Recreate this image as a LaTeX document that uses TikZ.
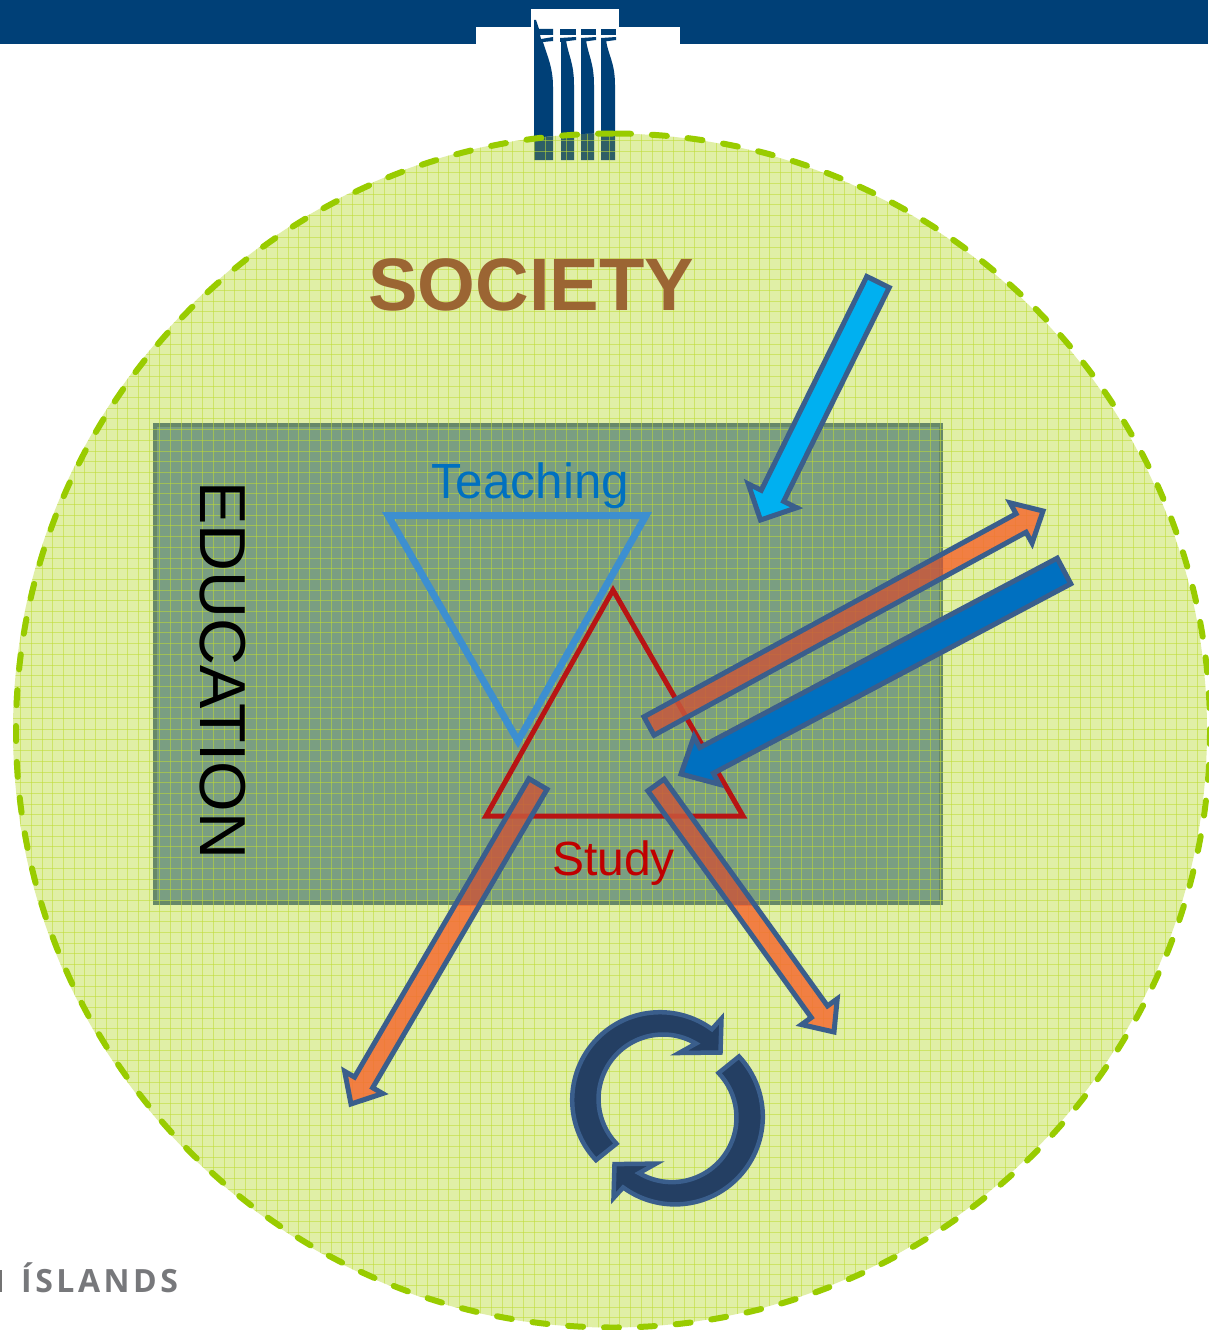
\documentclass[tikz,border=0pt]{standalone}
\usepackage{fontspec}
\setmainfont{Liberation Sans}
\newfontfamily\logofont[LetterSpace=11]{Open Sans Bold}
\usetikzlibrary{calc}
\definecolor{navy}{HTML}{004077}
\definecolor{ringfill}{HTML}{E0EFA6}
\definecolor{ringline}{HTML}{99CC00}
\definecolor{gridline}{HTML}{BFDB35}
\definecolor{eduFill}{HTML}{7A9E82}
\definecolor{eduEdge}{HTML}{668868}
\definecolor{outline}{HTML}{3A5E8C}
\definecolor{swooshfill}{HTML}{243F63}
\definecolor{stemshade}{HTML}{2E5F66}
\tikzset{
  stemshape/.style={fill=navy,draw=none},
  blockline/.style={draw=outline,line width=5pt,miter limit=12},
  orangelight/.style={fill={rgb,255:red,245;green,108;blue,50},fill opacity=.85},
  orangedark/.style={fill={rgb,255:red,200;green,88;blue,60},fill opacity=.85},
  swooshstyle/.style={fill=swooshfill,draw=outline,line width=4.5pt,miter limit=12},
}
\newcommand\blockarrow[6]{%
  \path[#6] ($(#1)!#3!90:(#2)$)
    -- ($(#2)!#5!(#1)!#3!90:(#2)$)
    -- ($(#2)!#5!(#1)!#4!90:(#2)$)
    -- (#2)
    -- ($(#2)!#5!(#1)!#4!-90:(#2)$)
    -- ($(#2)!#5!(#1)!#3!-90:(#2)$)
    -- ($(#1)!#3!-90:(#2)$) -- cycle;}
\newcommand\orangearrow[5]{%
  \begin{scope}\clip (153,423) rectangle (943,905);
    \blockarrow{#1}{#2}{#3pt}{#4pt}{#5pt}{orangedark}\end{scope}
  \begin{scope}\clip (0,905) rectangle (1208,1330) (943,0) rectangle (1208,905) (0,0) rectangle (153,905) (153,0) rectangle (943,423);
    \blockarrow{#1}{#2}{#3pt}{#4pt}{#5pt}{orangelight}\end{scope}
  \blockarrow{#1}{#2}{#3pt}{#4pt}{#5pt}{blockline}}
\newcommand\swooshshape{%
  \draw[swooshstyle] ($(660,1100)+(136.8:87.8)$) arc (136.8:306.2:87.8)
    -- (721.5,1018.5) -- (720.5,1052.5) -- (679,1053)
    -- ($(663,1099)+(300.7:64.5)$) arc (300.7:136.2:64.5) -- cycle;}
\begin{document}
\begin{tikzpicture}[x=1pt,y=-1pt]
\useasboundingbox (0,0) rectangle (1208,1330);
% header band and logo
\fill[white] (0,0) rectangle (1208,1330);
\fill[navy] (0,0) rectangle (1208,44);
\fill[white] (476,27) rectangle (680,44);
\fill[white] (531,9) rectangle (619,27);
% columns
\path[stemshape] (534,20) -- (536,20) -- (539,29) -- (553,29) -- (553,35) -- (540,35) -- (541,39) -- (553,37) -- (553,41) -- (543,42)
   .. controls (548,58) and (553,68) .. (553,87) -- (553,160) -- (534,160) -- cycle;
\foreach \xa/\xb/\xc/\xd/\xe in {560/561/566/574/576, 581/581/586/594/596, 601/601/606/615/616}{
  \fill[navy] (\xa,29) rectangle (\xe,35);
  \fill[navy] (\xa,38) -- (\xe,37) -- (\xe,40) -- (\xa,42) -- cycle;
  \fill[navy] (\xb,40) -- (\xc,40) .. controls (\xc+2,55) and (\xd,62) .. (\xd,85) -- (\xd,160) -- (\xb,160) -- cycle;
}
% society disc
\coordinate (ringc) at (610,730.5);
\fill[ringfill] (ringc) circle (597);
\begin{scope}
  \clip (ringc) circle (597);
  \fill[stemshade] (534,120) rectangle (553,160)
     (561,120) rectangle (574,160) (581,120) rectangle (594,160) (601,120) rectangle (615,160);
  % education block
  \fill[eduFill] (153,423) rectangle (943,905);
  \draw[eduEdge,line width=4pt] (155,425) rectangle (941,903);
  \foreach \i in {0,...,112}{
    \draw[gridline,line width=1pt,opacity=.55] ({10+10.7*\i},130) -- ({10+10.7*\i},1330);
    \draw[gridline,line width=1pt,opacity=.55] (0,{130+10.7*\i}) -- (1208,{130+10.7*\i});
  }
\end{scope}
\draw[ringline,line width=6pt,line cap=round,dash pattern=on 15pt off 20.9pt]
  (613,133.5) arc (270:-90:597);
% triangles
\draw[draw={rgb,255:red,184;green,20;blue,20},line width=5pt,miter limit=10] (613,590) -- (743,816) -- (486,816) -- cycle;
\draw[draw={rgb,255:red,61;green,143;blue,208},line width=7pt,miter limit=10] (388,515.5) -- (646,515.5) -- (518,741) -- cycle;
% block arrows
\coordinate (cyanA) at (878,282);  \coordinate (cyanB) at (760.5,520);
\coordinate (blueA) at (1064,571); \coordinate (blueB) at (681,774);
\coordinate (neA) at (649,726);    \coordinate (neB) at (1043,511);
\coordinate (swA) at (538,784);    \coordinate (swB) at (351,1104);
\coordinate (seA) at (656,785);    \coordinate (seB) at (834,1032);
\blockarrow{cyanA}{cyanB}{12.5pt}{27pt}{27pt}{fill={rgb,255:red,0;green,176;blue,240},blockline}
\orangearrow{neA}{neB}{10.5}{23}{25}
\blockarrow{blueA}{blueB}{14.5pt}{27pt}{29pt}{fill={rgb,255:red,0;green,112;blue,192},blockline}
\orangearrow{swA}{swB}{10.5}{22}{25}
\orangearrow{seA}{seB}{10}{22}{25}
% cycle arrows
\swooshshape
\begin{scope}[rotate around={180:(667.5,1108.3)}]\swooshshape\end{scope}
% labels
\node[anchor=base west,inner sep=0pt,font=\bfseries\fontsize{74.3}{74}\selectfont,text={rgb,255:red,155;green,101;blue,51}] (society) at (368,310) {SOCIETY};
\node[anchor=base west,inner sep=0pt,rotate=-90,font=\fontsize{65}{65}\selectfont,text=black] (education) at (200,481) {EDUCATION};
\node[anchor=base west,inner sep=0pt,font=\fontsize{49.4}{50}\selectfont,text={rgb,255:red,0;green,112;blue,192}] (teaching) at (431,498) {Teaching};
\node[anchor=base west,inner sep=0pt,font=\fontsize{48}{48}\selectfont,text={rgb,255:red,192;green,0;blue,0}] (study) at (552,875) {Study};
\node[anchor=base west,inner sep=0pt,font=\logofont\fontsize{32}{32}\selectfont,text={rgb,255:red,119;green,120;blue,123}] (islands) at (21,1292) {ÍSLANDS};
\fill[black!55] (0,1270) rectangle (1.5,1292);
\end{tikzpicture}
\end{document}
